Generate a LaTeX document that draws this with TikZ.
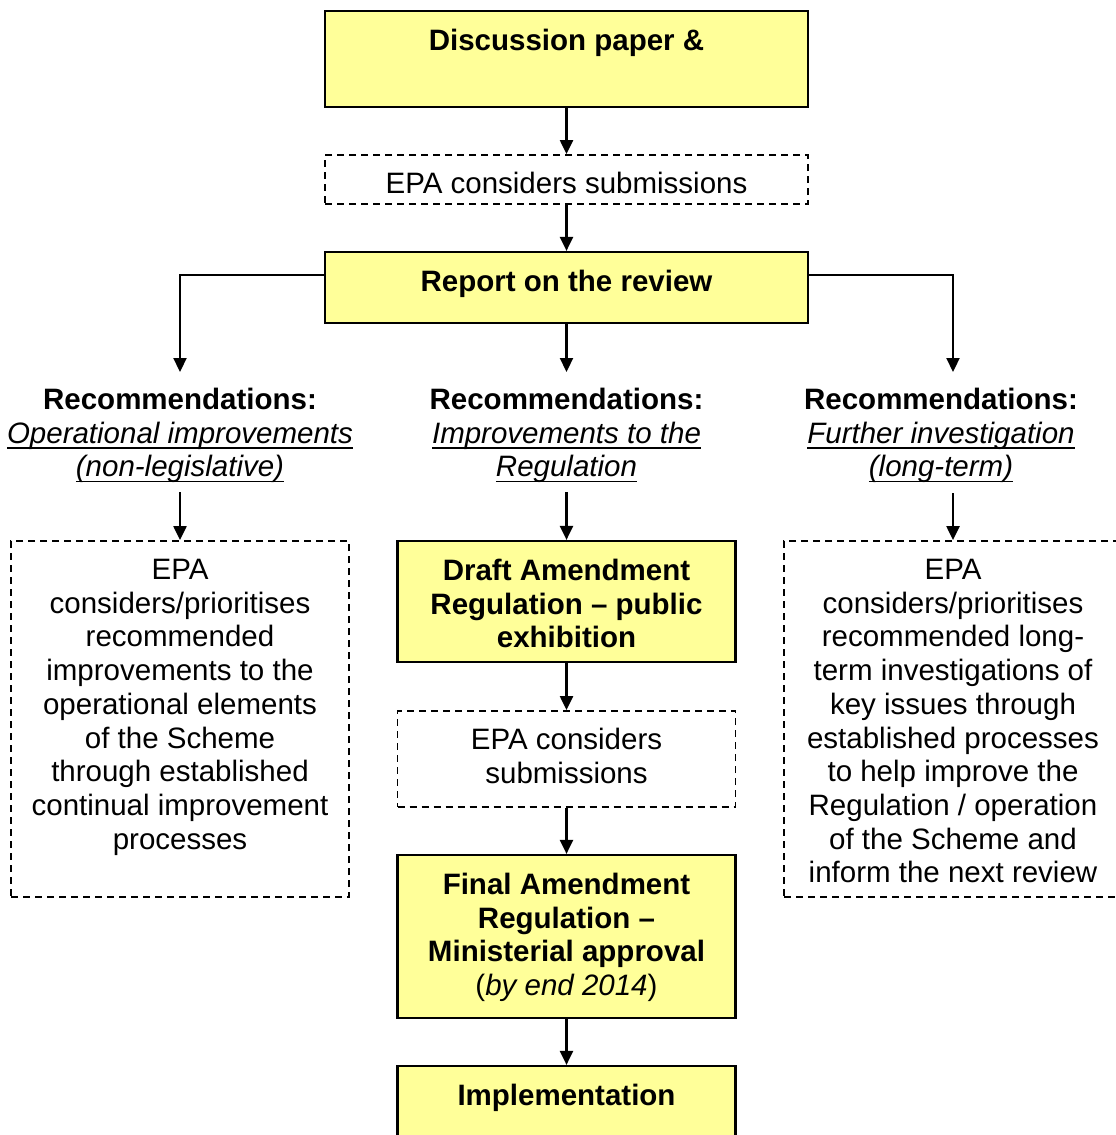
\documentclass[tikz,border=0pt]{standalone}
\usepackage{fontspec}
\setmainfont{Liberation Sans}
\usetikzlibrary{arrows.meta}
\definecolor{yel}{HTML}{FFFF99}
\newcommand\myul[1]{\setbox0=\hbox{\itshape #1}\rlap{\rule[-5.5pt]{\wd0}{1.8pt}}\box0}
\tikzset{
  ybox/.style={draw, line width=2.2pt, fill=yel, inner sep=0pt},
  dbox/.style={draw, line width=1.8pt, dash pattern=on 7pt off 5pt, inner sep=0pt},
  txt/.style={font=\fontsize{29.5}{33.7}\selectfont, align=center, inner sep=0pt, anchor=north},
  arr/.style={line width=2.2pt, -{Triangle[width=13pt,length=14pt]}},
}
\begin{document}
\begin{tikzpicture}[x=1pt,y=-1pt]
\clip (0,0) rectangle (1116,1135);
\fill[white] (0,0) rectangle (1116,1135);
% boxes
\node[ybox, minimum width=483pt, minimum height=96pt] (top) at (566.5,59) {};
\node[dbox, minimum width=483pt, minimum height=49pt] (sub1) at (566.5,179.5) {};
\node[ybox, minimum width=483pt, minimum height=71pt] (report) at (566.5,287.5) {};
\node[dbox, minimum width=338pt, minimum height=356pt] (left) at (180,719) {};
\node[ybox, minimum width=338pt, minimum height=121pt] (draft) at (566.5,601.5) {};
\node[dbox, minimum width=338pt, minimum height=96pt] (sub2) at (566.5,759) {};
\node[ybox, minimum width=338pt, minimum height=163pt] (final) at (566.5,936.5) {};
\node[ybox, minimum width=338pt, minimum height=104pt] (impl) at (566.5,1118) {};
\node[dbox, minimum width=338pt, minimum height=356pt] (right) at (953,719) {};
% texts
\node[txt] (topT) at (566.5,28.5) {\bfseries Discussion paper \&};
\node[txt] (sub1T) at (566.5,172) {EPA considers submissions};
\node[txt] (reportT) at (566.5,269.5) {\bfseries Report on the review};
\node[txt] (recL) at (180,388) {\bfseries Recommendations:\\ \myul{Operational improvements}\\ \myul{(non-legislative)}};
\node[txt] (recM) at (566.5,388) {\bfseries Recommendations:\\ \myul{Improvements to the}\\ \myul{Regulation}};
\node[txt] (recR) at (941,388) {\bfseries Recommendations:\\ \myul{Further investigation}\\ \myul{(long-term)}};
\node[txt] (leftT) at (180,559) {EPA\\ considers/prioritises\\ recommended\\ improvements to the\\ operational elements\\ of the Scheme\\ through established\\ continual improvement\\ processes};
\node[txt] (rightT) at (953,559) {EPA\\ considers/prioritises\\ recommended long-\\ term investigations of\\ key issues through\\ established processes\\ to help improve the\\ Regulation / operation\\ of the Scheme and\\ inform the next review};
\node[txt] (draftT) at (566.5,559) {\bfseries Draft Amendment\\ \bfseries Regulation -- public\\ \bfseries exhibition};
\node[txt] (sub2T) at (566.5,728) {EPA considers\\ submissions};
\node[txt] (finalT) at (566.5,873) {\bfseries Final Amendment\\ \bfseries Regulation --\\ \bfseries Ministerial approval\\ (\textit{by end 2014})};
\node[txt] (implT) at (566.5,1084) {\bfseries Implementation};
% connectors
\draw[arr] (top) -- (sub1);
\draw[arr] (sub1) -- (report);
\draw[arr] (report) -- ([yshift=16pt]recM.north);
\draw[arr] ([yshift=12.5pt]report.west) -| ([yshift=16pt]recL.north);
\coordinate (rtop) at (953,372);
\draw[arr] ([yshift=12.5pt]report.east) -| (rtop);
\draw[arr] ([yshift=-9pt]recL.south) -- (left.north);
\draw[arr] ([yshift=-9pt]recM.south) -- (draft.north);
\coordinate (rbot) at (953,493);
\draw[arr] (rbot) -- (right.north);
\draw[arr] (draft) -- (sub2);
\draw[arr] (sub2) -- (final);
\draw[arr] (final) -- (impl);
\end{tikzpicture}
\end{document}
